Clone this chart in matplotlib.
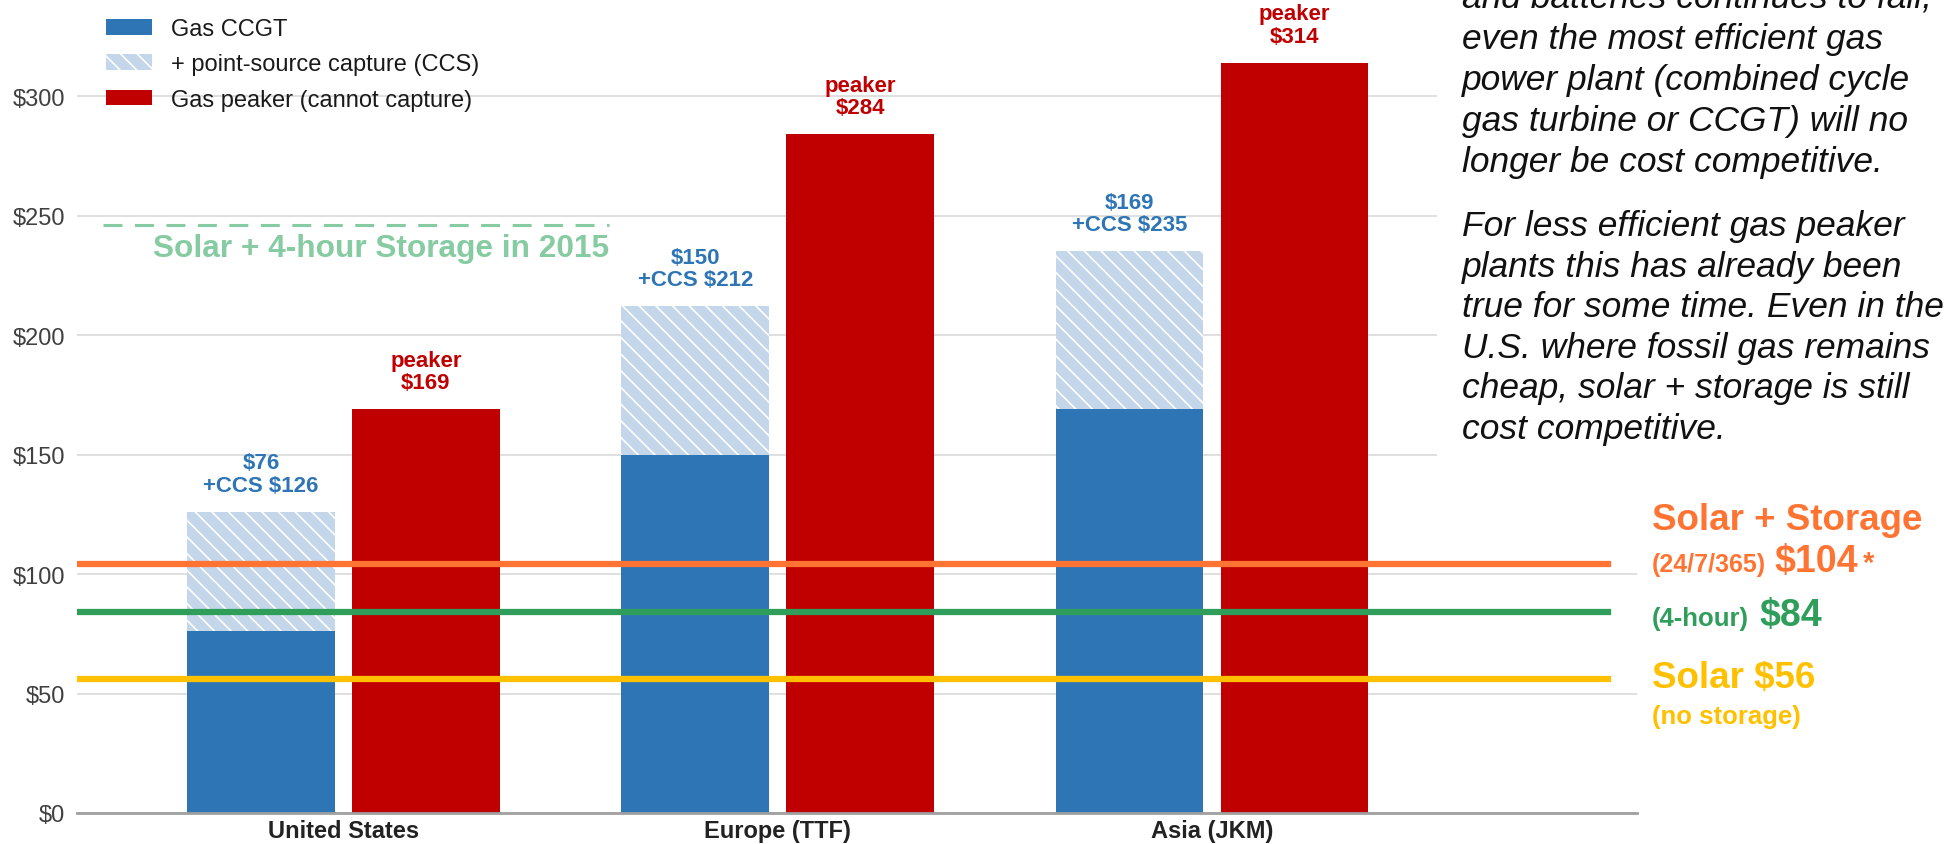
import matplotlib
matplotlib.use("Agg")
import matplotlib.pyplot as plt
from matplotlib.patches import Rectangle
import numpy as np

plt.rcParams["font.family"] = ["Liberation Sans", "DejaVu Sans"]
plt.rcParams["text.parse_math"] = False
plt.rcParams["hatch.linewidth"] = 1.2

# levelized cost of electricity, $/MWh
regions = ["United States", "Europe (TTF)", "Asia (JKM)"]
ccgt = [76, 150, 169]
ccgt_ccs = [126, 212, 235]
peaker = [169, 284, 314]

solar_storage_247 = 104
solar_storage_4h = 84
solar_only = 56
solar_storage_4h_2015 = 246

y_ticks = [0, 50, 100, 150, 200, 250, 300]
legend_labels = ["Gas CCGT", "+ point-source capture (CCS)", "Gas peaker (cannot capture)"]

note_1 = [
    "and batteries continues to fall,",
    "even the most efficient gas",
    "power plant (combined cycle",
    "gas turbine or CCGT) will no",
    "longer be cost competitive.",
]
note_2 = [
    "For less efficient gas peaker",
    "plants this has already been",
    "true for some time. Even in the",
    "U.S. where fossil gas remains",
    "cheap, solar + storage is still",
    "cost competitive.",
]

BLUE = "#2E75B6"
CCS_BLUE = "#C3D6EA"
RED = "#C00000"
ORANGE = "#FF7433"
GREEN = "#2F9E5B"
YELLOW = "#FFC000"
PALE_GREEN = "#86CBA1"

W, H = 1948, 845
fig = plt.figure(figsize=(W / 100, H / 100), dpi=100)
ax = fig.add_axes([77 / W, 31 / H, 1560 / W, 814 / H])

x = np.arange(len(regions))
bw = 0.34
off = 0.19
ccs_extra = np.array(ccgt_ccs) - np.array(ccgt)

b1 = ax.bar(x - off, ccgt, bw, color=BLUE, zorder=2)
b2 = ax.bar(x - off, ccs_extra, bw, bottom=ccgt, color=CCS_BLUE, hatch="\\\\",
            edgecolor="white", linewidth=0, zorder=2)
b3 = ax.bar(x + off, peaker, bw, color=RED, zorder=2)

# value labels above the bars
for xi, c, cc in zip(x, ccgt, ccgt_ccs):
    ax.annotate(f"${c}\n+CCS ${cc}", (xi - off, cc), xytext=(0, 11.5),
                textcoords="offset points", ha="center", va="bottom",
                fontsize=16, fontweight="bold", color=BLUE, linespacing=1.1)
for xi, p in zip(x, peaker):
    ax.annotate(f"peaker\n${p}", (xi + off, p), xytext=(0, 11.5),
                textcoords="offset points", ha="center", va="bottom",
                fontsize=16, fontweight="bold", color=RED, linespacing=1.1)

# solar reference lines
line_end = (1608 - 77) / 1560
ax.axhline(solar_storage_247, xmax=line_end, color=ORANGE, lw=4.5, zorder=3)
ax.axhline(solar_storage_4h, xmax=line_end, color=GREEN, lw=4.5, zorder=3)
ax.axhline(solar_only, xmax=line_end, color=YELLOW, lw=4.5, zorder=3)

# 2015 marker
x0_2015, x1_2015 = (103 - 77) / 1560, (609 - 77) / 1560
ax.axhline(solar_storage_4h_2015, xmin=x0_2015, xmax=x1_2015, color=PALE_GREEN,
           lw=2.2, ls=(0, (6.2, 4.1)), zorder=1.5)
ax.annotate("Solar + 4-hour Storage in 2015", (x1_2015, solar_storage_4h_2015),
            xycoords=("axes fraction", "data"), xytext=(0, -22),
            textcoords="offset points", ha="right", va="baseline",
            fontsize=22.8, fontweight="bold", color=PALE_GREEN)

# axes styling
ax.set_xlim(-0.6137, 2.979)
ax.set_ylim(0, 340.6)
ax.set_axisbelow(True)
ax.yaxis.grid(True, color="#D9D9D9", lw=1.2)
for s in ["left", "right", "top"]:
    ax.spines[s].set_visible(False)
ax.spines["bottom"].set_color("#A0A0A0")
ax.spines["bottom"].set_linewidth(2)
ax.set_yticks(y_ticks, [f"${v}" for v in y_ticks])
ax.set_xticks(x, regions, fontweight="bold")
ax.tick_params(axis="y", length=0, pad=8.5, labelsize=17, labelcolor="#404040")
ax.tick_params(axis="x", length=0, pad=4, labelsize=17, labelcolor="#222222")

# white area behind the notes hides the gridlines
ax.add_patch(Rectangle((0.872, 0.42), 0.2, 0.6, transform=ax.transAxes,
                       facecolor="white", edgecolor="none", zorder=0.8, clip_on=False))

ax.legend([b1, b2, b3], legend_labels, loc="upper left",
          bbox_to_anchor=(106 / W, 1 - 19 / H), bbox_transform=fig.transFigure,
          frameon=False, fontsize=17, handlelength=1.95, handleheight=0.64,
          handletextpad=0.8, labelspacing=0.565, borderpad=0, borderaxespad=0,
          labelcolor="#1A1A1A")

# notes on the right (va="baseline" pins the last line)
fig.text(1462 / W, 1 - 172 / H, "\n".join(note_1), fontsize=25.5, style="italic",
         va="baseline", linespacing=1.31, color="#111111")
fig.text(1462 / W, 1 - 439 / H, "\n".join(note_2), fontsize=25.5, style="italic",
         va="baseline", linespacing=1.29, color="#111111")

# right-hand labels for the solar lines
fig.canvas.draw()
rend = fig.canvas.get_renderer()


def text_after(prev, s, gap, **kw):
    bb = prev.get_window_extent(rend)
    return fig.text((bb.x1 + gap) / W, prev.get_position()[1], s, va="baseline", **kw)


lx = 1652 / W
fig.text(lx, 1 - 530 / H, "Solar + Storage", color=ORANGE, fontsize=26.5,
         fontweight="bold", va="baseline")
t = fig.text(lx, 1 - 572 / H, "(24/7/365)", color=ORANGE, fontsize=18,
             fontweight="bold", va="baseline")
t = text_after(t, f"${solar_storage_247}", 8, color=ORANGE, fontsize=27, fontweight="bold")
text_after(t, "*", 5, color=ORANGE, fontsize=21, fontweight="bold")
t = fig.text(lx, 1 - 626 / H, "(4-hour)", color=GREEN, fontsize=18.5,
             fontweight="bold", va="baseline")
text_after(t, f"${solar_storage_4h}", 10, color=GREEN, fontsize=27, fontweight="bold")
fig.text(lx, 1 - 688 / H, f"Solar ${solar_only}", color=YELLOW, fontsize=26.5,
         fontweight="bold", va="baseline")
fig.text(lx, 1 - 724 / H, "(no storage)", color=YELLOW, fontsize=18.5,
         fontweight="bold", va="baseline")

fig.savefig("out.png", dpi=100)
